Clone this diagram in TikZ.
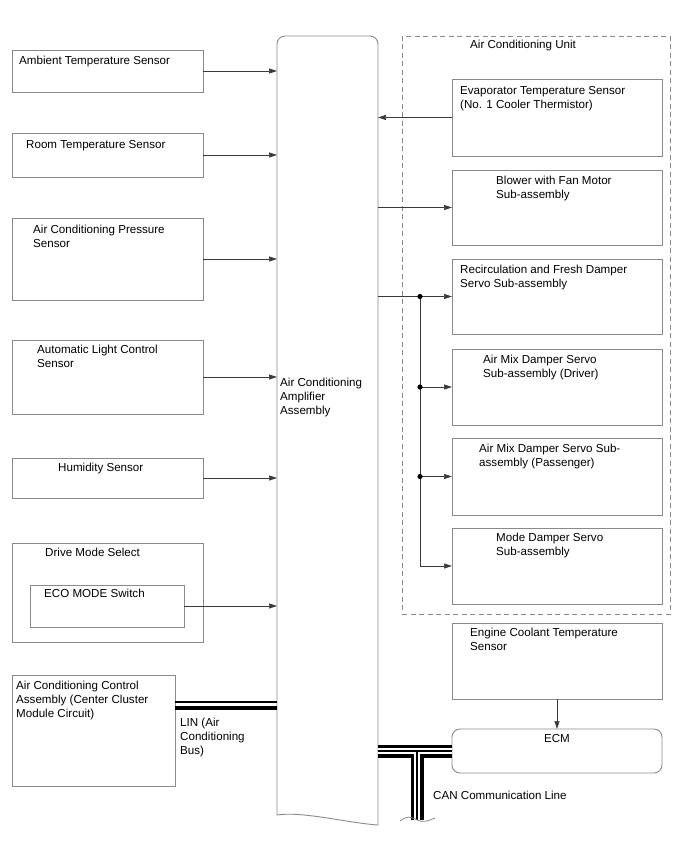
\documentclass[tikz,border=0pt]{standalone}
\usepackage{fontspec}
\setmainfont{Liberation Sans}
\usetikzlibrary{arrows.meta, positioning, calc}
\usepackage{xcolor}
\definecolor{mFrame}{HTML}{8A8A8A}
\definecolor{mWire} {HTML}{3A3A3A}

\begin{document}
\begin{tikzpicture}[x=1pt, y=-1pt,
    every node/.style={font=\fontsize{11.6}{13.8}\selectfont},
    box/.style={draw=mFrame, line width=0.9pt, inner sep=0pt, outer sep=0pt, anchor=north west},
    lbox/.style={box, minimum width=191pt},
    rbox/.style={box, minimum width=210pt},
    txt/.style={inner sep=0pt, align=left, anchor=north west},
    arr/.style={-{Triangle[length=8pt, width=5pt]}, mWire, line width=0.7pt},
    busout/.style={line width=13pt, black},
    busin/.style={line width=6.5pt, white},
    buscore/.style={line width=1.5pt, black}]
  \useasboundingbox (0,0) rectangle (688,852);

  % amplifier
  \node[inner sep=0pt, outer sep=0pt, minimum width=101pt, minimum height=779pt,
        anchor=north west] (amp) at (277,36) {};
  \draw[mFrame, line width=0.9pt, rounded corners=8pt] (amp.south west) -- (amp.north west)
    -- (amp.north east) -- ($(amp.south east)+(0,10)$);
  \draw[mFrame, line width=0.9pt] (amp.south west) .. controls +(25,-4) and +(-30,-2)
    .. ($(amp.south east)+(0,10)$);
  \node[txt, below right=342pt and 3pt of amp.north west] (amptxt)
    {Air Conditioning\\Amplifier\\Assembly};

  % sensors on the left
  \node[lbox, minimum height=42pt] (amb) at (12,50) {};
  \node[txt, below right=6pt and 7pt of amb.north west] (ambtxt) {Ambient Temperature Sensor};
  \node[lbox, minimum height=44pt] (room) at (12,133) {};
  \node[txt, below right=7pt and 14pt of room.north west] (roomtxt) {Room Temperature Sensor};
  \node[lbox, minimum height=82pt] (press) at (12,218) {};
  \node[txt, below right=7pt and 21pt of press.north west] (presstxt)
    {Air Conditioning Pressure\\Sensor};
  \node[lbox, minimum height=74pt] (light) at (12,340) {};
  \node[txt, below right=5pt and 25pt of light.north west] (lighttxt)
    {Automatic Light Control\\Sensor};
  \node[lbox, minimum height=40pt] (humid) at (12,458) {};
  \node[txt, below right=5pt and 46pt of humid.north west] (humidtxt) {Humidity Sensor};
  \node[lbox, minimum height=99pt] (drive) at (12,543) {};
  \node[txt, below right=5pt and 33pt of drive.north west] (drivetxt) {Drive Mode Select};
  \node[box, minimum width=154pt, minimum height=42pt] (eco) at (30,585) {};
  \node[txt, below right=4pt and 14pt of eco.north west] (ecotxt) {ECO MODE Switch};
  \node[box, minimum width=163pt, minimum height=111pt] (acctl) at (12,675) {};
  \node[txt, below right=6pt and 4pt of acctl.north west] (acctltxt)
    {Air Conditioning Control\\Assembly (Center Cluster\\Module Circuit)};

  \foreach \n in {amb, room, press, light, humid, eco}
    \draw[arr] (\n) -- (\n -| amp.west);

  % LIN bus
  \coordinate (lin1) at (0,702);
  \coordinate (lin2) at (0,708);
  \draw[black, line width=1.3pt] (acctl.east |- lin1) -- (amp.west |- lin1);
  \draw[black, line width=4pt] (acctl.east |- lin2) -- (amp.west |- lin2);
  \node[txt] (lintxt) at (180,718) {LIN (Air\\Conditioning\\Bus)};

  % air conditioning unit
  \node[draw=mFrame, dashed, dash pattern=on 5pt off 3.5pt, line width=0.8pt, inner sep=0pt,
        minimum width=268pt, minimum height=578pt, anchor=north west] (unit) at (402,36) {};
  \node[txt, below right=4pt and 68pt of unit.north west] (unittxt) {Air Conditioning Unit};

  \node[rbox, minimum height=77pt] (evap) at (452,79) {};
  \node[txt, below right=7pt and 8pt of evap.north west] (evaptxt)
    {Evaporator Temperature Sensor\\(No. 1 Cooler Thermistor)};
  \node[rbox, minimum height=75pt] (blow) at (452,170) {};
  \node[txt, below right=6pt and 44pt of blow.north west] (blowtxt)
    {Blower with Fan Motor\\Sub-assembly};
  \node[rbox, minimum height=75pt] (recirc) at (452,259) {};
  \node[txt, below right=6pt and 8pt of recirc.north west] (recirctxt)
    {Recirculation and Fresh Damper\\Servo Sub-assembly};
  \node[rbox, minimum height=76pt] (mixd) at (452,349) {};
  \node[txt, below right=6pt and 31pt of mixd.north west] (mixdtxt)
    {Air Mix Damper Servo\\Sub-assembly (Driver)};
  \node[rbox, minimum height=77pt] (mixp) at (452,438) {};
  \node[txt, below right=6pt and 27pt of mixp.north west] (mixptxt)
    {Air Mix Damper Servo Sub-\\assembly (Passenger)};
  \node[rbox, minimum height=76pt] (mode) at (452,528) {};
  \node[txt, below right=5pt and 44pt of mode.north west] (modetxt)
    {Mode Damper Servo\\Sub-assembly};

  \draw[arr] (evap) -- (evap -| amp.east);
  \draw[arr] (amp.east |- blow) -- (blow);
  \draw[arr] (amp.east |- recirc) -- (recirc);
  \coordinate (br) at (420,0);
  \draw[mWire, line width=0.7pt] (br |- recirc) -- (br |- mode);
  \foreach \n in {mixd, mixp, mode}
    \draw[arr] (br |- \n) -- (\n);
  \foreach \n in {recirc, mixd, mixp}
    \fill[black] (br |- \n) circle (2.6pt);

  % engine side
  \node[rbox, minimum height=76pt] (cool) at (452,623) {};
  \node[txt, below right=5pt and 18pt of cool.north west] (cooltxt)
    {Engine Coolant Temperature\\Sensor};
  \node[rbox, minimum height=44pt, rounded corners=8pt] (ecm) at (452,729) {};
  \node[inner sep=0pt, below=5pt of ecm.north] (ecmtxt) {ECM};
  \draw[arr] (cool) -- (ecm);

  % CAN bus
  \coordinate (canx) at (417,0);
  \coordinate (canend) at (417,820);
  \foreach \s in {busout, busin, buscore} {
    \draw[\s] (amp.east |- ecm) -- (ecm.west);
    \draw[\s] (canx |- ecm) -- (canend);
  }
  \draw[mFrame, line width=0.8pt] ($(canend)+(-17,1)$) .. controls +(8,-6) and +(-6,-3)
    .. (canend) .. controls +(6,3) and +(-7,3) .. ($(canend)+(18,-2)$);
  \node[txt] (cantxt) at (433,791) {CAN Communication Line};
\end{tikzpicture}
\end{document}
